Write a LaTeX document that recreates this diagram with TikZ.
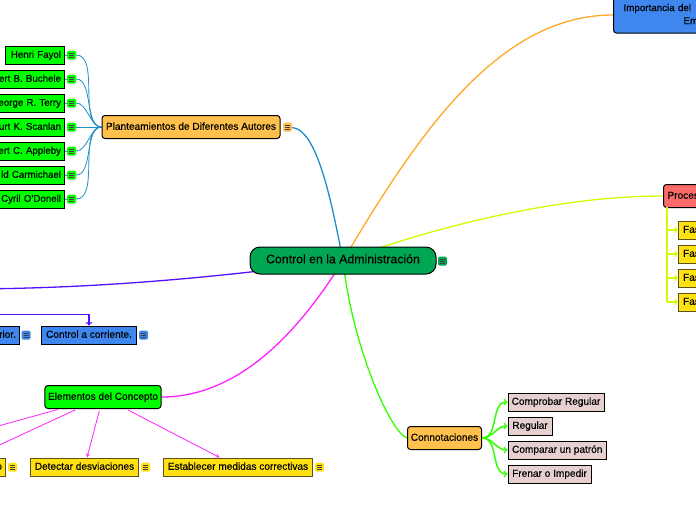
\documentclass[tikz,border=0pt]{standalone}
\usepackage{fontspec}
\setmainfont{Liberation Sans}[FakeBold=0.25]
\usetikzlibrary{backgrounds}
\definecolor{rootgreen}{HTML}{00A651}
\definecolor{leafgreen}{HTML}{00FF00}
\definecolor{toporange}{HTML}{FFC04D}
\definecolor{blockblue}{HTML}{3F86EE}
\definecolor{procred}{HTML}{FF6B6B}
\definecolor{markyellow}{HTML}{FFE010}
\definecolor{olive}{HTML}{5A5020}
\definecolor{rosegray}{HTML}{E6CFCF}
\definecolor{lineblue}{HTML}{1F8FC8}
\definecolor{lineorange}{HTML}{FFA726}
\definecolor{linelime}{HTML}{CCFF00}
\definecolor{linepurple}{HTML}{5511FF}
\definecolor{linepink}{HTML}{FF22FF}
\definecolor{linegreen}{HTML}{33FF00}
\tikzset{
	box/.style={draw=black, line width=1pt, font=\fontsize{10.1}{12}\selectfont, text height=7.5pt, text depth=2pt, inner xsep=3pt, inner ysep=0pt, minimum height=18pt},
	topbox/.style={box, rounded corners=3pt, minimum height=23pt},
	authorbox/.style={box, fill=leafgreen, anchor=east, text width=90pt, align=right, font=\fontsize{9.7}{12}\selectfont},
	blockbox/.style={box, fill=blockblue},
	markbox/.style={box, fill=markyellow, draw=olive},
	rosebox/.style={box, fill=rosegray, anchor=west},
	phasebox/.style={box, fill=markyellow, draw=olive, anchor=west, text width=30pt, align=left},
	noteicon/.style={rectangle, rounded corners=1.5pt, inner sep=0pt, minimum size=9pt, fill=#1,
		path picture={
			\draw[line width=0.6pt, black!75] ([xshift=-2.5pt, yshift=2pt]path picture bounding box.center) -- ++(5pt, 0pt);
			\draw[line width=0.6pt, black!75] ([xshift=-2.5pt]path picture bounding box.center) -- ++(5pt, 0pt);
			\draw[line width=0.6pt, black!75] ([xshift=-2.5pt, yshift=-2pt]path picture bounding box.center) -- ++(5pt, 0pt);
		}},
	branch/.style={line width=1.3pt},
	thinblue/.style={line width=0.8pt, draw=lineblue},
}
\begin{document}
\begin{tikzpicture}[x=1pt, y=-1pt]

	\useasboundingbox (0, 0) rectangle (696, 520);

	% Raiz

	\node[topbox, fill=rootgreen, rounded corners=10pt, minimum width=186pt, minimum height=27pt, font=\fontsize{12.3}{14}\selectfont] (root) at (343, 260.5) {Control en la Administración};
	\node[noteicon=rootgreen] (rootnote) at (442.5, 261) {};

	% Autores

	\node[topbox, fill=toporange, minimum width=178pt] (autores) at (191, 127) {Planteamientos de Diferentes Autores};
	\node[noteicon=toporange] (autoresnote) at (287.5, 127) {};

	\node[authorbox, text width=53pt] (fayol) at (64.5, 55) {Henri Fayol};
	\node[authorbox] (buchele) at (64.5, 79) {ert B. Buchele};
	\node[authorbox] (terry) at (64.5, 103) {eorge R. Terry};
	\node[authorbox] (scanlan) at (64.5, 127) {urt K. Scanlan};
	\node[authorbox] (appleby) at (64.5, 151) {ert C. Appleby};
	\node[authorbox] (carmichael) at (64.5, 175) {ld Carmichael};
	\node[authorbox] (donell) at (64.5, 199) {Cyril O’Donell};

	\node[noteicon=leafgreen] (fayolnote) at (71.5, 55) {};
	\node[noteicon=leafgreen] (buchelenote) at (71.5, 79) {};
	\node[noteicon=leafgreen] (terrynote) at (71.5, 103) {};
	\node[noteicon=leafgreen] (scanlannote) at (71.5, 127) {};
	\node[noteicon=leafgreen] (applebynote) at (71.5, 151) {};
	\node[noteicon=leafgreen] (carmichaelnote) at (71.5, 175) {};
	\node[noteicon=leafgreen] (donellnote) at (71.5, 199) {};

	% Importancia y Procesos

	\node[topbox, fill=blockblue, anchor=north west, text width=90pt, inner xsep=10pt, text height=, text depth=, minimum height=38pt, font=\fontsize{9.8}{13}\selectfont, align=left] (importancia) at (613, -5.5) {Importancia del\\\hspace{60pt}Em};

	\node[topbox, fill=procred, anchor=west, text width=50pt, inner xsep=4pt, align=left] (procesos) at (663, 196) {Proces};

	\node[phasebox, inner xsep=4.5pt] (fase1) at (678, 230) {Fas};
	\node[phasebox, inner xsep=4.5pt] (fase2) at (678, 254) {Fas};
	\node[phasebox, inner xsep=4.5pt] (fase3) at (678, 278) {Fas};
	\node[phasebox, inner xsep=4.5pt] (fase4) at (678, 302) {Fas};

	\coordinate (tronco) at (667, 207);
	\coordinate (codo1) at (667, 230);
	\coordinate (codo2) at (667, 254);
	\coordinate (codo3) at (667, 278);
	\coordinate (codo4) at (667, 302);

	% Tipos de control

	\node[blockbox, anchor=east, text width=50pt, align=right] (posterior) at (19.5, 335) {rior.};
	\node[noteicon=blockblue] (posteriornote) at (26, 335) {};

	\node[blockbox, minimum width=95pt] (corriente) at (89, 335) {Control a corriente.};
	\node[noteicon=blockblue] (corrientenote) at (143.5, 335) {};

	\coordinate (tipos) at (-40, 289);
	\coordinate (tiposlinea) at (-30, 314.5);

	% Elementos

	\node[topbox, fill=leafgreen, minimum width=115pt] (elementos) at (103, 397) {Elementos del Concepto};

	\node[markbox, anchor=east, text width=50pt, align=right] (medir) at (5.5, 467) {o};
	\node[noteicon=markyellow] (medirnote) at (12.5, 467) {};

	\node[markbox, minimum width=108pt] (detectar) at (84.5, 467) {Detectar desviaciones};
	\node[noteicon=markyellow] (detectarnote) at (145.5, 467) {};

	\node[markbox, minimum width=149pt] (establecer) at (238, 467) {Establecer medidas correctivas};
	\node[noteicon=markyellow] (establecernote) at (319.5, 467) {};

	\coordinate (otro) at (-150, 467);
	\coordinate (medirfin) at (-48, 467);

	% Connotaciones

	\node[topbox, fill=toporange, minimum width=74pt] (connotaciones) at (444.5, 438) {Connotaciones};

	\node[rosebox, minimum width=96pt] (comprobar) at (507.5, 402) {Comprobar Regular};
	\node[rosebox, minimum width=44pt] (regular) at (507.5, 426) {Regular};
	\node[rosebox, minimum width=98.5pt] (comparar) at (507.5, 450) {Comparar un patrón};
	\node[rosebox, minimum width=83pt] (frenar) at (507.5, 474) {Frenar o Impedir};

	% Conectores

	\begin{scope}[on background layer]

		\draw[branch, lineblue] (autoresnote) .. controls (318, 130) and (332, 205) .. (root.center);
		\draw[branch, lineorange] (importancia.west |- 0, 15) .. controls (500, 15) and (420, 130) .. (root.center);
		\draw[branch, linelime] (procesos) .. controls (560, 196) and (440, 225) .. (root.center);
		\draw[branch, linepurple] (tipos) .. controls (80, 289) and (200, 280) .. (root.center);
		\draw[branch, linepink] (elementos.east) .. controls (240, 397) and (300, 330) .. (root.center);
		\draw[branch, linegreen] (connotaciones.west) .. controls (390, 432) and (352, 345) .. (root.center);

		\draw[thinblue] (autores.west) -- (scanlannote);
		\draw[thinblue] (fayol) -- (fayolnote);
		\draw[thinblue] (buchele) -- (buchelenote);
		\draw[thinblue] (terry) -- (terrynote);
		\draw[thinblue] (appleby) -- (applebynote);
		\draw[thinblue] (carmichael) -- (carmichaelnote);
		\draw[thinblue] (donell) -- (donellnote);

		\draw[thinblue] (fayolnote) to[out=0, in=180, looseness=0.8] (autores.west);
		\draw[thinblue] (buchelenote) to[out=0, in=180, looseness=0.8] (autores.west);
		\draw[thinblue] (terrynote) to[out=0, in=180, looseness=0.8] (autores.west);
		\draw[thinblue] (applebynote) to[out=0, in=180, looseness=0.8] (autores.west);
		\draw[thinblue] (carmichaelnote) to[out=0, in=180, looseness=0.8] (autores.west);
		\draw[thinblue] (donellnote) to[out=0, in=180, looseness=0.8] (autores.west);

	\end{scope}

	\draw[line width=1.5pt, linelime] (tronco) -- (codo4);
	\draw[->, branch, linelime] (codo1) -- (fase1);
	\draw[->, branch, linelime] (codo2) -- (fase2);
	\draw[->, branch, linelime] (codo3) -- (fase3);
	\draw[->, branch, linelime] (codo4) -- (fase4);

	\draw[->, branch, linepurple] (tiposlinea) -| (corriente);

	\draw[->, >=stealth, line width=0.8pt, linepink, shorten <=2pt] (elementos) -- (detectar);
	\draw[->, >=stealth, line width=0.8pt, linepink, shorten <=2pt] (elementos) -- (establecer);
	\draw[->, >=stealth, line width=0.8pt, linepink, shorten <=2pt] (elementos) -- (medirfin);
	\draw[->, >=stealth, line width=0.8pt, linepink, shorten <=2pt] (elementos) -- (otro);

	\draw[->, line width=1.5pt, linegreen] (connotaciones.east) to[out=0, in=180] (comprobar.west);
	\draw[->, line width=1.5pt, linegreen] (connotaciones.east) to[out=0, in=180] (regular.west);
	\draw[->, line width=1.5pt, linegreen] (connotaciones.east) to[out=0, in=180] (comparar.west);
	\draw[->, line width=1.5pt, linegreen] (connotaciones.east) to[out=0, in=180] (frenar.west);

\end{tikzpicture}
\end{document}
